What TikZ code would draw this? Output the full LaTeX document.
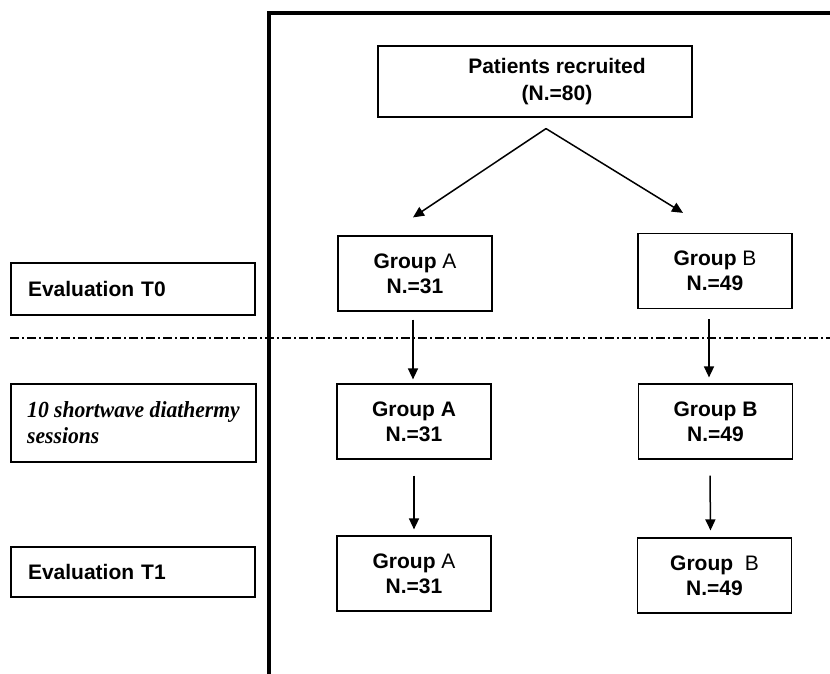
\documentclass[tikz,border=0pt]{standalone}
\usepackage{fontspec}
\setmainfont{Liberation Sans}
\newfontfamily\serifbi[FakeStretch=0.94]{Liberation Serif}
\usetikzlibrary{arrows.meta}
\begin{document}
\begin{tikzpicture}[x=1pt,y=-1pt,
  box/.style={draw,line width=1.2pt,rectangle,inner sep=0pt,align=center,
    font=\fontsize{21}{25}\selectfont\bfseries},
  grpbox/.style={box,minimum width=154pt,minimum height=75pt},
  labbox/.style={box,minimum width=244pt,inner xsep=17pt,text width=210pt,align=left},
  arr/.style={line width=1.5pt,-{Triangle[length=11pt,width=10pt]}},
  frame/.style={line width=4pt,line cap=rect}]
\useasboundingbox (0,0) rectangle (830,674);
\fill[white] (0,0) rectangle (830,674);
% frame
\coordinate (fb) at (269,676);
\coordinate (fc) at (269,13);
\coordinate (fr) at (832,13);
\draw[frame] (fb) -- (fc) -- (fr);
% top node
\node[box,minimum width=314pt,minimum height=71pt,font=\fontsize{21}{27}\selectfont\bfseries]
  (P) at (535,81.5) {\hspace*{44pt}Patients recruited\\\hspace*{44pt}(N.=80)};
% T0
\node[grpbox] (A0) at (415,273.5) {Group \textmd{A}\\N.=31};
\node[grpbox] (B0) at (715,271) {Group \textmd{B}\\N.=49};
\node[labbox,minimum height=52pt] (E0) at (133,289) {Evaluation T0};
% dash-dot line
\coordinate (dl) at (10,338);
\coordinate (dr) at (830,338);
\draw[line width=1.2pt,dash pattern=on 9pt off 3pt on 2pt off 3pt] (dl) -- (dr);
% middle
\node[grpbox] (A1) at (414,421.5) {Group A\\N.=31};
\node[grpbox] (B1) at (715.5,421.5) {Group B\\N.=49};
\node[box,minimum width=245pt,minimum height=78pt,align=left,
  font=\fontsize{23}{26}\selectfont\serifbi\bfseries\itshape] (S) at (133.5,423)
  {10 shortwave diathermy\\sessions};
% T1
\node[grpbox] (A2) at (414,573.5) {Group \textmd{A}\\N.=31};
\node[grpbox] (B2) at (714.5,575.5) {Group\ \ \textmd{B}\\N.=49};
\node[labbox,minimum height=50pt] (E2) at (133,572) {Evaluation T1};
% arrows
\draw[arr] ([xshift=11pt,yshift=-11pt]P.south) -- ([xshift=-2pt,yshift=18pt]A0.north);
\draw[arr] ([xshift=11pt,yshift=-11pt]P.south) -- ([xshift=-32pt,yshift=20pt]B0.north);
\draw[arr] ([xshift=-2pt,yshift=-8pt]A0.south) -- ([xshift=-1pt,yshift=4pt]A1.north);
\draw[arr] ([xshift=-6pt,yshift=-10pt]B0.south) -- ([xshift=-6.5pt,yshift=6pt]B1.north);
\draw[arr] ([xshift=0pt,yshift=-16pt]A1.south) -- ([yshift=6pt]A2.north);
\draw[arr] ([xshift=-5.5pt,yshift=-16pt]B1.south) -- ([xshift=-4pt,yshift=7pt]B2.north);
\end{tikzpicture}
\end{document}
